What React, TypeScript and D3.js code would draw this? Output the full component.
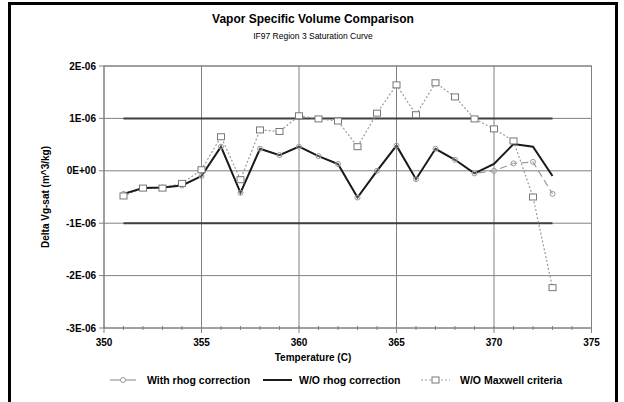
import React from "react";
import * as d3 from "d3";

const temps = [351,352,353,354,355,356,357,358,359,360,361,362,363,364,365,366,367,368,369,370,371,372,373];
// values in units of 1E-06 m^3/kg
const withRhog = [-0.44,-0.33,-0.32,-0.28,-0.1,0.46,-0.42,0.42,0.3,0.46,0.28,0.13,-0.51,0.0,0.48,-0.16,0.42,0.21,-0.05,0.0,0.14,0.17,-0.44];
const woRhog = [-0.44,-0.33,-0.32,-0.28,-0.1,0.46,-0.42,0.42,0.3,0.46,0.28,0.13,-0.51,0.0,0.48,-0.16,0.42,0.21,-0.05,0.13,0.51,0.46,-0.1];
const woMaxwell = [-0.48,-0.33,-0.33,-0.24,0.02,0.65,-0.17,0.78,0.75,1.05,0.99,0.95,0.46,1.1,1.64,1.07,1.68,1.41,0.99,0.8,0.57,-0.5,-2.23];
const boundUpper = [1, 1];
const boundLower = [-1, -1];
const boundTemps = [351, 373];
const xTicks = [350,355,360,365,370,375];
const yTicks = [2,1,0,-1,-2,-3];
const yTickLabels = ["2E-06","1E-06","0E+00","-1E-06","-2E-06","-3E-06"];

const W = 624, H = 402;
const left = 104, right = 591.5, top = 66, bottom = 328;
const font = "'Liberation Sans', Arial, sans-serif";

export default function App() {
  const x = d3.scaleLinear().domain([350, 375]).range([left, right]);
  const y = d3.scaleLinear().domain([-3, 2]).range([bottom, top]);
  const line = d3.line<[number, number]>().x(d => x(d[0])).y(d => y(d[1]));
  const pts = (vals: number[], ts = temps) => ts.map((t, i) => [t, vals[i]] as [number, number]);
  const minor = d3.range(350, 376, 1);

  return (
    <svg width={W} height={H} style={{ position: "absolute", left: 0, top: 0 }} fontFamily={font}>
      <rect x={0} y={0} width={W} height={H} fill="#fff" />
      <path d={`M9.5,${H + 5} L9.5,3.5 L616.5,3.5 L616.5,${H + 5}`} fill="none" stroke="#000" strokeWidth={3} />
      <text x={313} y={23} textAnchor="middle" fontSize={12} fontWeight="bold">Vapor Specific Volume Comparison</text>
      <text x={313} y={39} textAnchor="middle" fontSize={8.5}>IF97 Region 3 Saturation Curve</text>

      {/* grid */}
      {xTicks.map(t => (
        <line key={"gx" + t} x1={x(t)} x2={x(t)} y1={top} y2={bottom} stroke="#808080" strokeWidth={1} />
      ))}
      {yTicks.map(v => (
        <line key={"gy" + v} x1={left} x2={right} y1={y(v)} y2={y(v)} stroke="#808080" strokeWidth={1} />
      ))}
      <rect x={left} y={top} width={right - left} height={bottom - top} fill="none" stroke="#808080" />

      {/* ticks */}
      {yTicks.map((v, i) => (
        <g key={"yt" + v}>
          <line x1={left - 5} x2={left} y1={y(v)} y2={y(v)} stroke="#808080" />
          <text x={left - 8} y={y(v) + 3.5} textAnchor="end" fontSize={10} fontWeight="bold">{yTickLabels[i]}</text>
        </g>
      ))}
      {minor.map(t => (
        <line key={"mx" + t} x1={x(t)} x2={x(t)} y1={bottom - 2} y2={bottom + (t % 5 === 0 ? 5 : 2)} stroke="#808080" />
      ))}
      {xTicks.map(t => (
        <text key={"xt" + t} x={x(t)} y={bottom + 18} textAnchor="middle" fontSize={10} fontWeight="bold">{t}</text>
      ))}

      <text x={313} y={361} textAnchor="middle" fontSize={10} fontWeight="bold">Temperature  (C)</text>
      <text transform={`translate(49,${(top + bottom) / 2}) rotate(-90)`} textAnchor="middle" fontSize={10} fontWeight="bold">Delta Vg-sat  (m^3/kg)</text>

      {/* bounds */}
      <path d={line(pts(boundUpper, boundTemps)) || ""} stroke="#404040" strokeWidth={2} fill="none" />
      <path d={line(pts(boundLower, boundTemps)) || ""} stroke="#404040" strokeWidth={2} fill="none" />

      {/* W/O Maxwell */}
      <path d={line(pts(woMaxwell)) || ""} stroke="#9a9a9a" strokeWidth={1.2} strokeDasharray="2,2" fill="none" />
      {/* With rhog */}
      <path d={line(pts(withRhog)) || ""} stroke="#9a9a9a" strokeWidth={1.2} strokeDasharray="7,4" fill="none" />
      {/* W/O rhog */}
      <path d={line(pts(woRhog)) || ""} stroke="#1a1a1a" strokeWidth={2} fill="none" />

      {temps.map((t, i) => (
        <circle key={"c" + t} cx={x(t)} cy={y(withRhog[i])} r={2.5} fill="#fff" fillOpacity={0.2} stroke="#999" strokeWidth={1} />
      ))}
      {temps.map((t, i) => (
        <rect key={"s" + t} x={x(t) - 3.5} y={y(woMaxwell[i]) - 3} width={7} height={6} fill="#fff" stroke="#777" strokeWidth={1} />
      ))}

      {/* legend */}
      <g fontSize={10.5} fontWeight="bold">
        <line x1={110} x2={136} y1={380} y2={380} stroke="#9a9a9a" strokeWidth={1.2} />
        <circle cx={123} cy={380} r={2.5} fill="#fff" stroke="#999" />
        <text x={147} y={384}>With rhog correction</text>
        <line x1={263} x2={292} y1={380} y2={380} stroke="#1a1a1a" strokeWidth={2} />
        <text x={299} y={384}>W/O rhog correction</text>
        <line x1={421} x2={450} y1={380} y2={380} stroke="#9a9a9a" strokeWidth={1.2} strokeDasharray="2,2" />
        <rect x={432} y={377} width={7} height={6} fill="#fff" stroke="#777" />
        <text x={460} y={384}>W/O Maxwell criteria</text>
      </g>
    </svg>
  );
}
